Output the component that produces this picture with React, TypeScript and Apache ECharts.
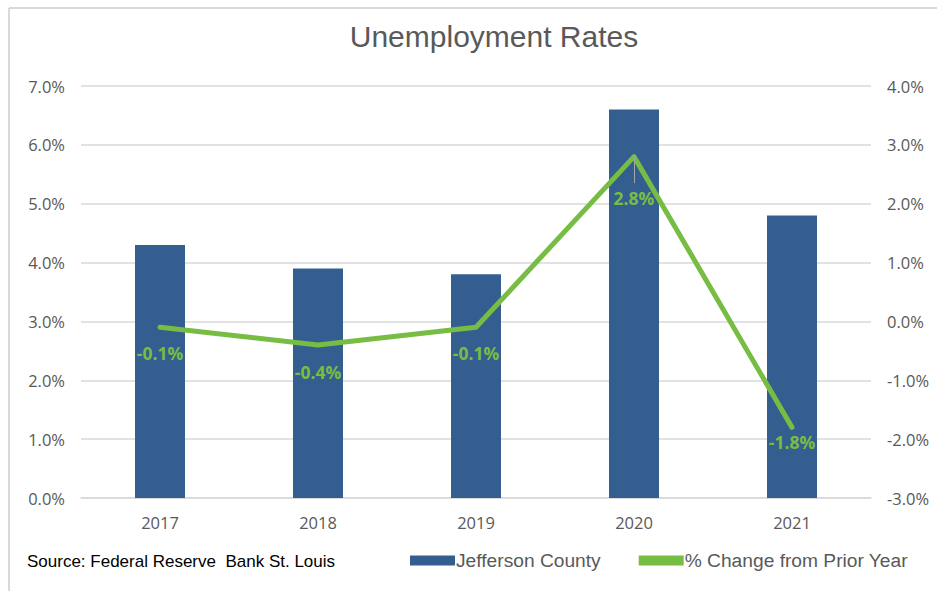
import React, { useEffect, useRef } from "react";
import * as echarts from "echarts";

const categories = ["2017", "2018", "2019", "2020", "2021"];
const unemployment = [4.3, 3.9, 3.8, 6.6, 4.8];
const pctChange = [-0.1, -0.4, -0.1, 2.8, -1.8];
const leftTicks = { min: 0, max: 7, interval: 1 };
const rightTicks = { min: -3, max: 4, interval: 1 };
const labelDistances = [17, 18, 17, 32, 6];

const BAR = "#345e8f";
const GREEN = "#78bd43";
const GRAY_TEXT = "#595959";
const GRID = "#d9d9d9";

export default function App() {
  const ref = useRef<HTMLDivElement>(null);
  useEffect(() => {
    if (!ref.current) return;
    const chart = echarts.init(ref.current, null, { renderer: "svg" });
    chart.setOption({
      animation: false,
      backgroundColor: "#fff",
      title: {
        text: "Unemployment Rates",
        left: 489,
        textAlign: "center",
        top: 16,
        textStyle: { fontFamily: "Liberation Sans", fontSize: 30, fontWeight: "normal", color: GRAY_TEXT },
      },
      grid: { left: 81, right: 66, top: 86, bottom: 93 },
      legend: {
        left: 405,
        top: 546,
        itemWidth: 45,
        itemHeight: 10,
        itemGap: 38,
        textStyle: { fontFamily: "Liberation Sans", fontSize: 19.2, color: GRAY_TEXT, padding: [0, 0, 0, -4] },
        data: [
          { name: "Jefferson County", icon: "rect" },
          { name: "% Change from Prior Year", icon: "rect", itemStyle: { color: GREEN } },
        ],
      },
      xAxis: {
        type: "category",
        data: categories,
        axisLine: { lineStyle: { color: GRID, width: 1.5 } },
        axisTick: { show: false },
        axisLabel: { fontFamily: "Open Sans", fontSize: 16.5, color: GRAY_TEXT, margin: 16 },
      },
      yAxis: [
        {
          type: "value",
          ...leftTicks,
          axisLabel: {
            formatter: (v: number) => v.toFixed(1) + "%",
            fontFamily: "Open Sans",
            fontSize: 16.5,
            color: GRAY_TEXT,
            margin: 16,
          },
          splitLine: { lineStyle: { color: GRID, width: 1.5 } },
          axisLine: { show: false },
          axisTick: { show: false },
        },
        {
          type: "value",
          ...rightTicks,
          position: "right",
          axisLabel: {
            formatter: (v: number) => v.toFixed(1) + "%",
            fontFamily: "Open Sans",
            fontSize: 16.5,
            color: GRAY_TEXT,
            margin: 16,
          },
          splitLine: { show: false },
          axisLine: { show: false },
          axisTick: { show: false },
        },
      ],
      series: [
        {
          name: "Jefferson County",
          type: "bar",
          data: unemployment,
          barWidth: 50,
          itemStyle: { color: BAR },
        },
        {
          name: "% Change from Prior Year",
          type: "line",
          yAxisIndex: 1,
          data: pctChange.map((v, i) => ({ value: v, label: { distance: labelDistances[i] } })),
          showSymbol: true,
          symbol: "circle",
          symbolSize: 0.1,
          lineStyle: { color: GREEN, width: 5, cap: "round", join: "round" },
          itemStyle: { color: GREEN },
          label: {
            show: true,
            position: "bottom",
            formatter: (p: any) => p.value.toFixed(1) + "%",
            fontFamily: "Open Sans",
            fontWeight: "bold",
            fontSize: 17.5,
            color: GREEN,
          },
          markLine: {
            silent: true,
            symbol: "none",
            label: { show: false },
            lineStyle: { color: "#a6a6a6", width: 1, type: "solid" },
            data: [
              [
                { coord: [categories[3], pctChange[3]] },
                { coord: [categories[3], pctChange[3] - 0.45] },
              ],
            ],
          },
        },
      ],
      graphic: [
        {
          type: "text",
          left: 27,
          top: 553,
          style: {
            text: "Source: Federal Reserve  Bank St. Louis",
            fontFamily: "Liberation Sans",
            fontSize: 17,
            fill: "#000",
          },
        },
        { type: "line", shape: { x1: 9, y1: 8, x2: 937, y2: 8 }, style: { stroke: GRID, lineWidth: 2 } },
        { type: "line", shape: { x1: 9, y1: 8, x2: 9, y2: 591 }, style: { stroke: GRID, lineWidth: 2 } },
      ],
    });
    return () => chart.dispose();
  }, []);
  return (
    <div
      ref={ref}
      style={{ position: "absolute", left: 0, top: 0, width: 937, height: 591 }}
    />
  );
}
